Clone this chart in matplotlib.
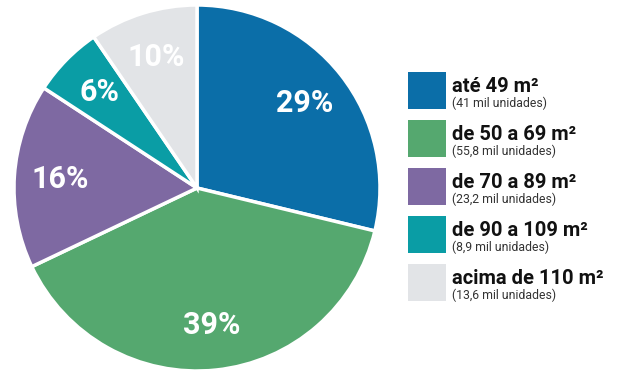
import matplotlib
matplotlib.use("Agg")
import matplotlib.pyplot as plt
from matplotlib.patches import Rectangle

# dados (mil unidades)
faixas = ["até 49 m²", "de 50 a 69 m²", "de 70 a 89 m²", "de 90 a 109 m²", "acima de 110 m²"]
unidades = [41, 55.8, 23.2, 8.9, 13.6]
subtitulos = ["(41 mil unidades)", "(55,8 mil unidades)", "(23,2 mil unidades)",
              "(8,9 mil unidades)", "(13,6 mil unidades)"]
cores = ["#0b6ea8", "#55a86f", "#7e69a2", "#0a9da5", "#e2e4e7"]

W, H = 620, 380
fig = plt.figure(figsize=(W / 100, H / 100), dpi=100)
fig.patch.set_facecolor("white")

# pie axes: center (197,188), radius 183 px
cx, cy, r = 197, 188, 183
ax = fig.add_axes([(cx - r) / W, (H - cy - r) / H, 2 * r / W, 2 * r / H])
wedges, texts, autotexts = ax.pie(
    unidades, colors=cores, startangle=90, counterclock=False,
    autopct="%.0f%%", pctdistance=0.75, radius=1,
    wedgeprops=dict(edgecolor="white", linewidth=2.5),
    textprops=dict(color="white", fontsize=22, fontweight="bold", family="Roboto"),
)
ax.set_xlim(-1, 1)
ax.set_ylim(-1, 1)
ax.set_aspect("equal")
ax.axis("off")

# legenda
x0, y0, step = 408, 72, 48
sw, sh = 38, 37
for i, (lab, sub, c) in enumerate(zip(faixas, subtitulos, cores)):
    top = y0 + i * step
    fig.patches.append(Rectangle((x0 / W, 1 - (top + sh) / H), sw / W, sh / H,
                                 transform=fig.transFigure, facecolor=c, edgecolor="none"))
    fig.text((x0 + sw + 6) / W, 1 - (top + 20) / H, lab, fontsize=14.5, fontweight="bold",
             family="Roboto", color="#111111", va="baseline", ha="left")
    fig.text((x0 + sw + 6) / W, 1 - (top + 35) / H, sub, fontsize=8.8,
             family="Roboto", color="#333333", va="baseline", ha="left")

fig.savefig("out.png", dpi=100)
